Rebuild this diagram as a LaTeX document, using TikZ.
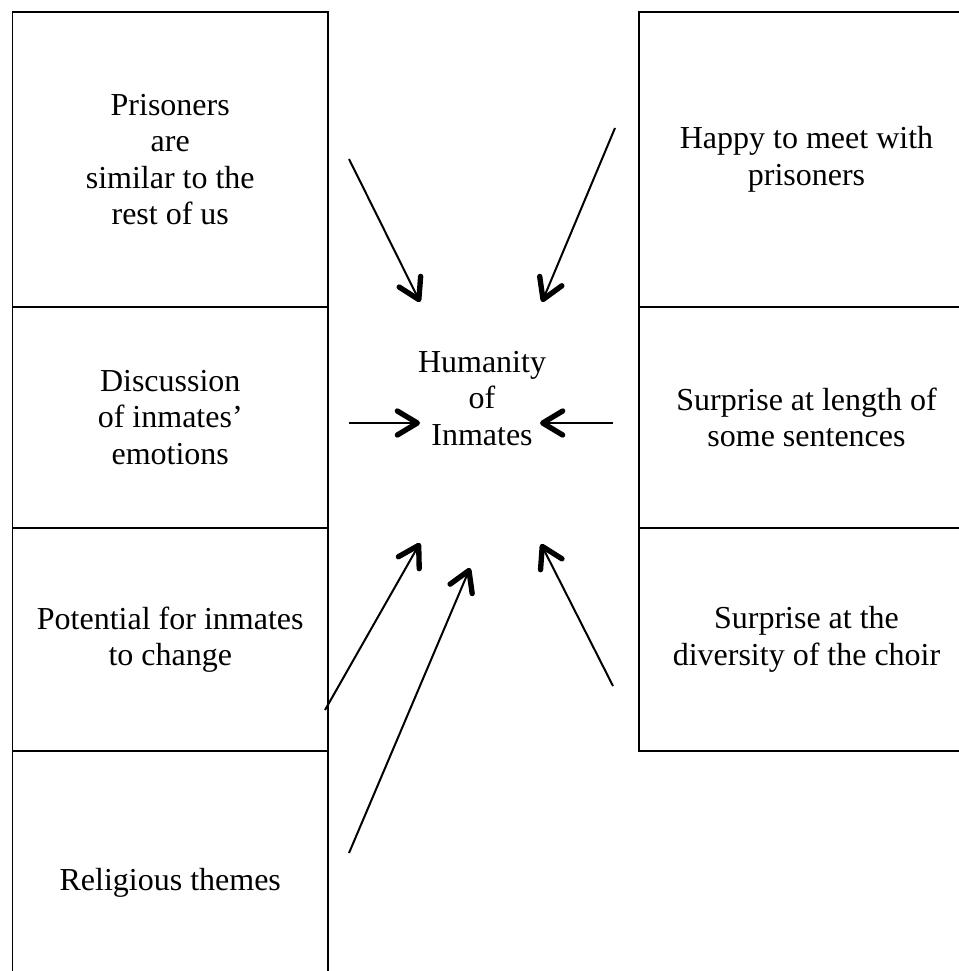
\documentclass[tikz,border=0pt]{standalone}
\usepackage{fontspec}
\setmainfont{Liberation Serif}
\usetikzlibrary{arrows.meta}
\begin{document}
\begin{tikzpicture}[x=0.75pt,y=-0.75pt,
		txt/.style={align=center,inner sep=0pt,font=\fontsize{24}{27.3}\selectfont},
		box/.style={txt,draw,line width=1.3pt},
		lbox/.style={box,minimum width=236.6pt},
		rbox/.style={box,minimum width=251.25pt},
		link/.style={line width=1.5pt,-{Straight Barb[length=15pt,width=18pt,line width=4pt,round]}}]
				\useasboundingbox (0,0) rectangle (959,971);
				\node[lbox,minimum height=221.25pt] (prison) at (170.25,159.5) {Prisoners\\are\\similar to the\\rest of us};
				\node[lbox,minimum height=165.75pt] (emotion) at (170.25,417.5) {Discussion\\of inmates’\\emotions};
				\node[lbox,minimum height=167.25pt] (change) at (170.25,639.5) {Potential for inmates\\to change};
				\node[lbox,minimum height=198pt] (relig) at (170.25,883) {Religious themes};
				\node[rbox,minimum height=221.25pt] (happy) at (806.5,159.5) {Happy to meet with\\prisoners};
				\node[rbox,minimum height=165.75pt] (length) at (806.5,417.5) {Surprise at length of\\some sentences};
				\node[rbox,minimum height=167.25pt] (choir) at (806.5,639.5) {Surprise at the\\diversity of the choir};
				\node[txt] (human) at (482,398.5) {Humanity\\of\\Inmates};
				\coordinate (prisonS) at (349,159);
				\coordinate (prisonE) at (420,302);
				\coordinate (happyS) at (615,128);
				\coordinate (happyE) at (542,302);
				\coordinate (emotionS) at (349,423);
				\coordinate (emotionE) at (420,423);
				\coordinate (lengthS) at (613,423);
				\coordinate (lengthE) at (540,423);
				\coordinate (changeS) at (325,710);
				\coordinate (changeE) at (420,543);
				\coordinate (religS) at (349,853);
				\coordinate (religE) at (470,568);
				\coordinate (choirS) at (613,686);
				\coordinate (choirE) at (541,544);
				\draw[link] (prisonS)--(prisonE);
				\draw[link] (happyS)--(happyE);
				\draw[link] (emotionS)--(emotionE);
				\draw[link] (lengthS)--(lengthE);
				\draw[link] (changeS)--(changeE);
				\draw[link] (religS)--(religE);
				\draw[link] (choirS)--(choirE);
			\end{tikzpicture}
\end{document}
